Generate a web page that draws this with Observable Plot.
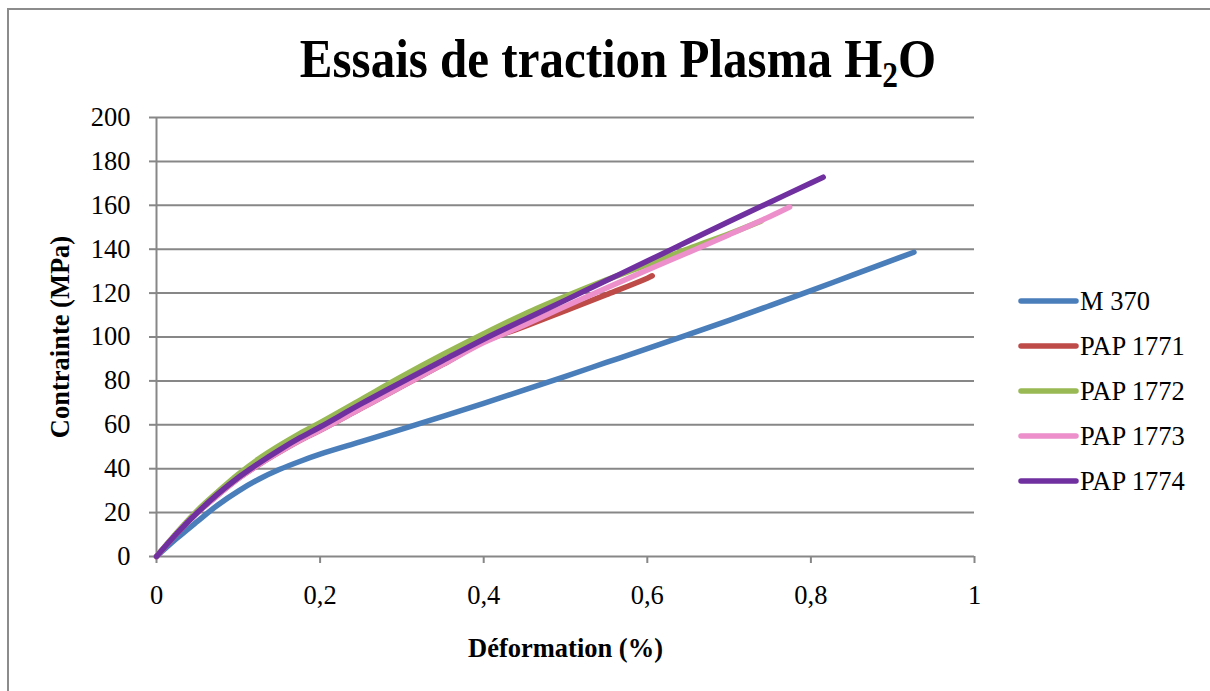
<!DOCTYPE html>
<html>
<head>
<meta charset="utf-8">
<script src="https://cdn.jsdelivr.net/npm/d3@7"></script>
<script src="https://cdn.jsdelivr.net/npm/@observablehq/plot@0.6"></script>
<style>
  html, body { margin: 0; padding: 0; background: #fff; }
  #wrap { position: relative; width: 1210px; height: 691px; overflow: hidden; background: #fff; }
  #plot { position: absolute; left: 0; top: 0; }
  #frame { position: absolute; left: 7px; top: 8px; width: 1400px; height: 900px;
           border-left: 2px solid #8c8c8c; border-top: 2px solid #8c8c8c; z-index: 3; pointer-events: none; }
  #title { position: absolute; left: 0; top: 36px; width: 1236px; text-align: center;
           font: bold 49px "Liberation Serif", "Times New Roman", serif; line-height: 49px;
           transform: scaleY(1.12); transform-origin: 50% 80%; z-index: 2; color: #000; }
  #title .sub { font-size: 0.64em; position: relative; top: 0.3em; }
  #legend { position: absolute; left: 0; top: 0; z-index: 2; }
</style>
</head>
<body>
<div id="wrap">
  <div id="plot"></div>
  <div id="title">Essais de traction Plasma H<span class="sub">2</span>O</div>
  <svg id="legend" width="1210" height="691"></svg>
  <div id="frame"></div>
</div>
<script>
// ---- data ----
const seriesNames = ["M 370", "PAP 1771", "PAP 1772", "PAP 1773", "PAP 1774"];
const seriesColors = ["#4A7EBB", "#BE4B48", "#98B954", "#EC8FCB", "#7030A0"];

const m370Strain = [0, 0.025, 0.05, 0.075, 0.1, 0.125, 0.15, 0.175, 0.2, 0.25, 0.3, 0.35, 0.4, 0.45, 0.5, 0.55, 0.6, 0.65, 0.7, 0.75, 0.8, 0.85, 0.9, 0.926];
const m370Stress = [0, 8.3, 16, 23.5, 29.8, 35.2, 39.6, 43.3, 46.6, 52.3, 58, 63.8, 69.8, 75.9, 82.1, 88.4, 94.7, 101.1, 107.6, 114.3, 121.1, 128.1, 135, 138.6];

const pap1771Strain = [0, 0.025, 0.05, 0.075, 0.1, 0.125, 0.15, 0.175, 0.2, 0.25, 0.3, 0.35, 0.4, 0.45, 0.5, 0.55, 0.6, 0.606];
const pap1771Stress = [0, 10.5, 20, 28, 35.5, 41.8, 47.5, 52.8, 57.5, 67.5, 77.5, 87.5, 97.8, 104.8, 112, 119.3, 126.8, 127.9];

const pap1772Strain = [0, 0.025, 0.05, 0.075, 0.1, 0.125, 0.15, 0.175, 0.2, 0.25, 0.3, 0.35, 0.4, 0.45, 0.5, 0.55, 0.6, 0.65, 0.7, 0.739];
const pap1772Stress = [0, 11, 21, 29.5, 37.5, 44.5, 50.5, 56, 61, 71.5, 82, 92, 101.5, 110.5, 118.5, 126, 133, 140.2, 147, 152.8];

const pap1773Strain = [0, 0.025, 0.05, 0.075, 0.1, 0.125, 0.15, 0.175, 0.2, 0.25, 0.3, 0.35, 0.4, 0.45, 0.5, 0.55, 0.6, 0.65, 0.7, 0.75, 0.774];
const pap1773Stress = [0, 10.5, 20, 28, 35.5, 41.8, 47.5, 52.8, 57.5, 67.5, 77.5, 87.5, 97.5, 105.5, 114, 122.3, 130.5, 138.5, 146.6, 154.9, 159.2];

const pap1774Strain = [0, 0.025, 0.05, 0.075, 0.1, 0.125, 0.15, 0.175, 0.2, 0.25, 0.3, 0.35, 0.4, 0.45, 0.5, 0.55, 0.6, 0.65, 0.7, 0.75, 0.8, 0.815];
const pap1774Stress = [0, 10.5, 20, 28.5, 36, 42.5, 48.5, 54, 59, 69.5, 79.5, 89.3, 99, 108, 116.8, 125.7, 134.6, 143.6, 152.6, 161.4, 170.2, 172.8];

const xTicks = [0, 0.2, 0.4, 0.6, 0.8, 1];
const xTickLabels = ["0", "0,2", "0,4", "0,6", "0,8", "1"];
const yTicks = [0, 20, 40, 60, 80, 100, 120, 140, 160, 180, 200];

const xTitle = "Déformation (%)";
const yTitle = "Contrainte (MPa)";

// ---- build table ----
const strains = [m370Strain, pap1771Strain, pap1772Strain, pap1773Strain, pap1774Strain];
const stresses = [m370Stress, pap1771Stress, pap1772Stress, pap1773Stress, pap1774Stress];
const rows = [];
seriesNames.forEach((name, i) => {
  strains[i].forEach((x, j) => rows.push({series: name, x, y: stresses[i][j]}));
});

const gridColor = "#878787";
const font = '"Liberation Serif", "Times New Roman", serif';

const lineMarks = seriesNames.map((name, i) =>
  Plot.line(rows.filter(d => d.series === name), {
    x: "x", y: "y", stroke: seriesColors[i], strokeWidth: 5.5,
    strokeLinecap: "round", strokeLinejoin: "round", curve: "catmull-rom"
  })
);

const chart = Plot.plot({
  width: 1210,
  height: 691,
  marginLeft: 156,
  marginRight: 236,
  marginTop: 117,
  marginBottom: 135,
  style: {fontFamily: font, fontSize: "26.5px", color: "#000", background: "transparent", overflow: "visible"},
  x: {domain: [0, 1]},
  y: {domain: [0, 200]},
  marks: [
    Plot.ruleY(yTicks, {stroke: gridColor, strokeWidth: 2}),
    Plot.ruleX([0], {stroke: gridColor, strokeWidth: 2}),
    Plot.axisY({ticks: yTicks, tickSize: 7, tickPadding: 19, stroke: gridColor, strokeWidth: 2,
      fill: "#000", fontSize: 26.5, label: null, tickFormat: d => String(d)}),
    Plot.axisX({ticks: xTicks, tickSize: 7, tickPadding: 22, stroke: gridColor, strokeWidth: 2,
      fill: "#000", fontSize: 26.5, label: null, tickFormat: (d, i) => xTickLabels[i]}),
    ...lineMarks,
    Plot.text([yTitle], {frameAnchor: "left", dx: -96, rotate: -90, fontWeight: "bold", fontSize: 26.5,
      fill: "#000", textAnchor: "middle", lineAnchor: "middle"}),
    Plot.text([xTitle], {frameAnchor: "bottom", dy: 92, fontWeight: "bold", fontSize: 26.5,
      fill: "#000", textAnchor: "middle", lineAnchor: "middle"})
  ]
});
document.getElementById("plot").appendChild(chart);

// ---- legend ----
const lg = d3.select("#legend");
const item = lg.selectAll("g").data(seriesNames).join("g")
  .attr("transform", (d, i) => `translate(1021, ${301 + i * 45})`);
item.append("line").attr("x1", 0).attr("x2", 55).attr("y1", 0).attr("y2", 0)
  .attr("stroke", (d, i) => seriesColors[i]).attr("stroke-width", 5.5).attr("stroke-linecap", "round");
item.append("text").attr("x", 59).attr("y", 9).text(d => d)
  .attr("font-family", font).attr("font-size", 26.5).attr("fill", "#000");
</script>
</body>
</html>
